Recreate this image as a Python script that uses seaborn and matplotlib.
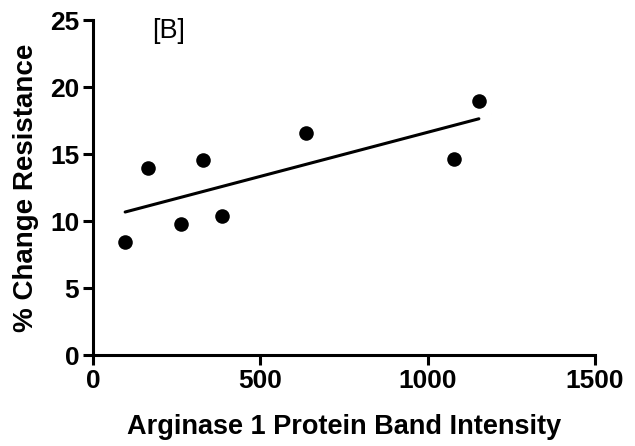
import matplotlib
matplotlib.use("Agg")
import matplotlib.pyplot as plt
import seaborn as sns
import pandas as pd

# values
band_intensity = [96, 164, 263, 328, 385, 636, 1079, 1153]
pct_change = [8.45, 13.95, 9.8, 14.55, 10.4, 16.6, 14.65, 18.95]
x_ticks = [0, 500, 1000, 1500]
y_ticks = [0, 5, 10, 15, 20, 25]

df = pd.DataFrame({'intensity': band_intensity, 'change': pct_change})

sns.set_style('ticks')
plt.rcParams['font.family'] = ['Liberation Sans', 'DejaVu Sans']
plt.rcParams['text.color'] = 'black'

fig = plt.figure(figsize=(6.35, 4.46), dpi=100)
ax = fig.add_axes([0.1465, 0.204, 0.937 - 0.1465, 0.955 - 0.204])

sns.regplot(x='intensity', y='change', data=df, ax=ax, ci=None, color='black',
            scatter_kws={'s': 110, 'linewidths': 0, 'alpha': 1},
            line_kws={'linewidth': 2.2})

ax.set_xlim(0, 1500)
ax.set_ylim(0, 25)
ax.set_xticks(x_ticks)
ax.set_yticks(y_ticks)
sns.despine(ax=ax)
for s in ['left', 'bottom']:
    ax.spines[s].set_linewidth(2.2)
    ax.spines[s].set_color('black')
ax.tick_params(width=2.2, length=7, direction='out', colors='black',
               labelsize=19, pad=3)
for lab in ax.get_xticklabels() + ax.get_yticklabels():
    lab.set_fontweight('bold')

ax.set_xlabel('Arginase 1 Protein Band Intensity', fontsize=19.5,
              fontweight='bold', labelpad=15, color='black')
ax.set_ylabel('% Change Resistance', fontsize=20, fontweight='bold',
              labelpad=8, color='black')

ax.text(0.117, 1.005, '[B]', transform=ax.transAxes, fontsize=19.5,
        ha='left', va='top', color='black')

fig.savefig('out.png', dpi=100)
